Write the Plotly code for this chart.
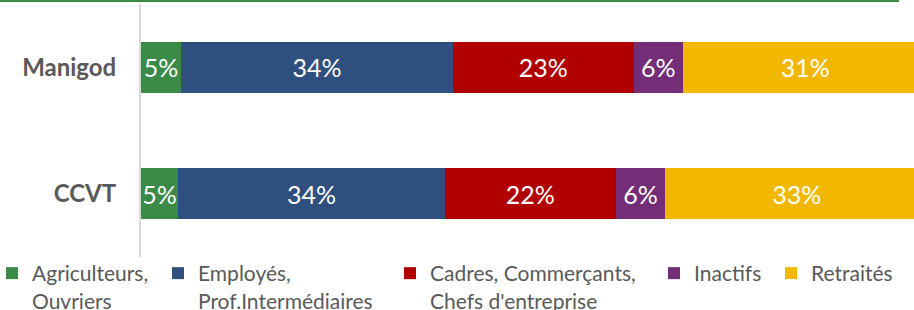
import plotly.graph_objects as go

categories = ["Manigod", "CCVT"]
series_names = [
    "Agriculteurs,<br>Ouvriers",
    "Employés,<br>Prof.Intermédiaires",
    "Cadres, Commerçants,<br>Chefs d'entreprise",
    "Inactifs",
    "Retraités",
]
colors = ["#3B8A48", "#2F4F7E", "#B00000", "#742E78", "#F2B800"]
# values (%) per series: [Manigod, CCVT]
agriculteurs = [5.1, 4.7]
employes = [34.5, 33.9]
cadres = [23.0, 21.7]
inactifs = [6.2, 6.3]
retraites = [31.2, 33.4]
# displayed labels
labels_agriculteurs = ["5%", "5%"]
labels_employes = ["34%", "34%"]
labels_cadres = ["23%", "22%"]
labels_inactifs = ["6%", "6%"]
labels_retraites = ["31%", "33%"]

values = [agriculteurs, employes, cadres, inactifs, retraites]
labels = [labels_agriculteurs, labels_employes, labels_cadres, labels_inactifs, labels_retraites]

# legend entry left edges (px from figure left)
legend_px = [-8, 158, 390, 654, 771]
legend_ids = ["legend", "legend2", "legend3", "legend4", "legend5"]

FONT = "Lato"
fig = go.Figure()
for name, col, vals, labs, lid in zip(series_names, colors, values, labels, legend_ids):
    fig.add_trace(go.Bar(
        y=categories, x=vals, name=name, orientation="h", legend=lid,
        marker=dict(color=col, line=dict(width=0)),
        text=labs, textposition="inside", insidetextanchor="middle",
        textfont=dict(family=FONT, size=25, color="white"),
        textangle=0, constraintext="none",
    ))

W, H = 914, 310
L, T, B, R = 141, 4, 53, 0
pw = W - L - R
ph = H - T - B

legend_style = dict(orientation="h", xanchor="left",
                    y=(ph - (253 - T)) / ph, yanchor="top", valign="top",
                    font=dict(family=FONT, size=21, color="#595959"),
                    itemclick=False, itemdoubleclick=False, bgcolor="rgba(0,0,0,0)")
legends = {lid: dict(legend_style, x=(px - L) / pw) for lid, px in zip(legend_ids, legend_px)}

fig.update_layout(
    width=W, height=H,
    margin=dict(l=L, r=R, t=T, b=B, pad=0, autoexpand=False),
    barmode="stack", bargap=0.6,
    plot_bgcolor="white", paper_bgcolor="white",
    font=dict(family=FONT, color="#595959"),
    xaxis=dict(range=[0, 98.2], visible=False, fixedrange=True, automargin=False),
    yaxis=dict(autorange="reversed", showline=True, linecolor="#D9D9D9", linewidth=2,
               ticks="", ticklabelstandoff=18, automargin=False, fixedrange=True,
               tickfont=dict(family=FONT, size=24, color="#595959", weight="bold"),
               showgrid=False, zeroline=False),
    shapes=[dict(type="line", xref="paper", yref="paper",
                 x0=(0 - L) / pw, x1=(899 - L) / pw,
                 y0=1 + (T - 1) / ph, y1=1 + (T - 1) / ph,
                 line=dict(color="#3B8A48", width=2))],
    showlegend=True,
    **legends,
)
fig.write_html("out.html", config={"displayModeBar": False},
               post_script="document.body.style.margin='0';document.body.style.overflow='hidden';")
